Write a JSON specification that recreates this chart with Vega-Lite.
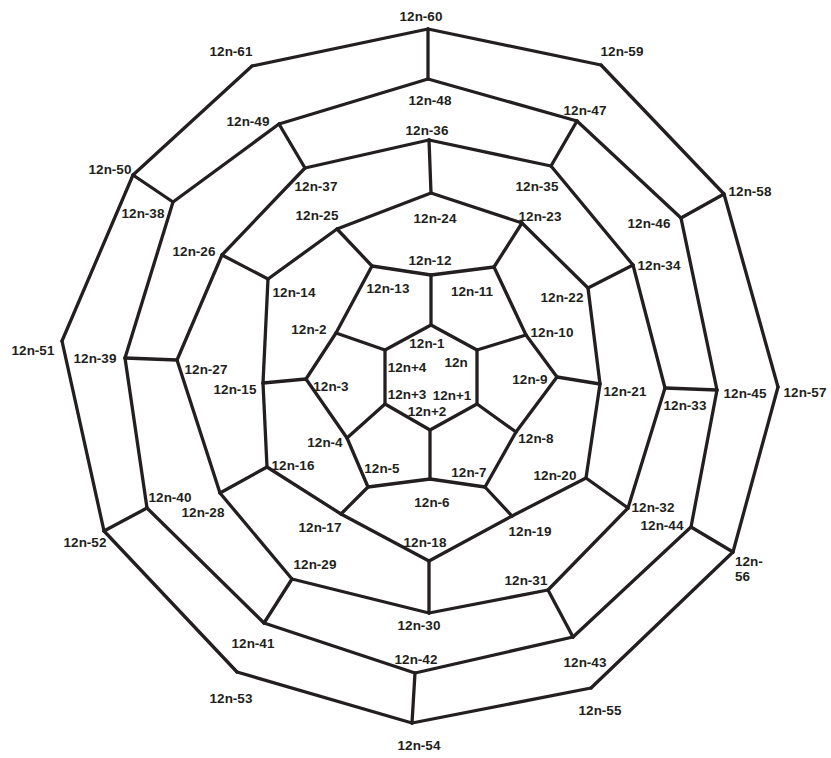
{
"$schema": "https://vega.github.io/schema/vega-lite/v6.json",
"width": 831, "height": 758,
"autosize": {"type": "fit", "contains": "padding"},
"padding": 0,
"background": "white",
"config": {"view": {"stroke": null}},
"datasets": {
"nodes": [
{"id": -1, "label": "12n-1", "x": 431, "y": 325, "lx": 427, "ly": 344},
{"id": 0, "label": "12n", "x": 477, "y": 350, "lx": 456, "ly": 363},
{"id": 1, "label": "12n+1", "x": 477, "y": 404, "lx": 452, "ly": 396},
{"id": 2, "label": "12n+2", "x": 430, "y": 430, "lx": 427, "ly": 412},
{"id": 3, "label": "12n+3", "x": 385, "y": 404, "lx": 407, "ly": 395},
{"id": 4, "label": "12n+4", "x": 385, "y": 350, "lx": 407, "ly": 368},
{"id": -2, "label": "12n-2", "x": 336, "y": 333, "lx": 309, "ly": 330},
{"id": -3, "label": "12n-3", "x": 306, "y": 379, "lx": 331, "ly": 387},
{"id": -4, "label": "12n-4", "x": 347, "y": 438, "lx": 325, "ly": 443},
{"id": -5, "label": "12n-5", "x": 368, "y": 487, "lx": 382, "ly": 469},
{"id": -6, "label": "12n-6", "x": 430, "y": 479, "lx": 432, "ly": 503},
{"id": -7, "label": "12n-7", "x": 485, "y": 487, "lx": 469, "ly": 473},
{"id": -8, "label": "12n-8", "x": 516, "y": 432, "lx": 536, "ly": 439},
{"id": -9, "label": "12n-9", "x": 557, "y": 377, "lx": 530, "ly": 380},
{"id": -10, "label": "12n-10", "x": 526, "y": 335, "lx": 552, "ly": 333},
{"id": -11, "label": "12n-11", "x": 494, "y": 267, "lx": 472, "ly": 292},
{"id": -12, "label": "12n-12", "x": 431, "y": 275, "lx": 430, "ly": 261},
{"id": -13, "label": "12n-13", "x": 372, "y": 266, "lx": 388, "ly": 289},
{"id": -14, "label": "12n-14", "x": 268, "y": 279, "lx": 294, "ly": 293},
{"id": -15, "label": "12n-15", "x": 263, "y": 383, "lx": 235, "ly": 390},
{"id": -16, "label": "12n-16", "x": 267, "y": 467, "lx": 293, "ly": 466},
{"id": -17, "label": "12n-17", "x": 341, "y": 514, "lx": 320, "ly": 528},
{"id": -18, "label": "12n-18", "x": 429, "y": 561, "lx": 425, "ly": 543},
{"id": -19, "label": "12n-19", "x": 512, "y": 516, "lx": 530, "ly": 532},
{"id": -20, "label": "12n-20", "x": 586, "y": 478, "lx": 555, "ly": 476},
{"id": -21, "label": "12n-21", "x": 600, "y": 384, "lx": 625, "ly": 392},
{"id": -22, "label": "12n-22", "x": 588, "y": 288, "lx": 562, "ly": 298},
{"id": -23, "label": "12n-23", "x": 522, "y": 223, "lx": 540, "ly": 217},
{"id": -24, "label": "12n-24", "x": 431, "y": 193, "lx": 435, "ly": 219},
{"id": -25, "label": "12n-25", "x": 337, "y": 229, "lx": 317, "ly": 216},
{"id": -26, "label": "12n-26", "x": 222, "y": 255, "lx": 194, "ly": 252},
{"id": -27, "label": "12n-27", "x": 177, "y": 360, "lx": 206, "ly": 370},
{"id": -28, "label": "12n-28", "x": 220, "y": 493, "lx": 203, "ly": 513},
{"id": -29, "label": "12n-29", "x": 292, "y": 579, "lx": 315, "ly": 565},
{"id": -30, "label": "12n-30", "x": 429, "y": 613, "lx": 419, "ly": 626},
{"id": -31, "label": "12n-31", "x": 548, "y": 590, "lx": 526, "ly": 581},
{"id": -32, "label": "12n-32", "x": 628, "y": 508, "lx": 653, "ly": 508},
{"id": -33, "label": "12n-33", "x": 665, "y": 388, "lx": 685, "ly": 406},
{"id": -34, "label": "12n-34", "x": 633, "y": 265, "lx": 659, "ly": 266},
{"id": -35, "label": "12n-35", "x": 551, "y": 166, "lx": 537, "ly": 187},
{"id": -36, "label": "12n-36", "x": 429, "y": 140, "lx": 427, "ly": 131},
{"id": -37, "label": "12n-37", "x": 305, "y": 168, "lx": 316, "ly": 187},
{"id": -38, "label": "12n-38", "x": 173, "y": 202, "lx": 143, "ly": 214},
{"id": -39, "label": "12n-39", "x": 125, "y": 358, "lx": 95, "ly": 359},
{"id": -40, "label": "12n-40", "x": 147, "y": 508, "lx": 170, "ly": 498},
{"id": -41, "label": "12n-41", "x": 264, "y": 623, "lx": 253, "ly": 644},
{"id": -42, "label": "12n-42", "x": 415, "y": 673, "lx": 416, "ly": 660},
{"id": -43, "label": "12n-43", "x": 573, "y": 637, "lx": 585, "ly": 663},
{"id": -44, "label": "12n-44", "x": 691, "y": 527, "lx": 662, "ly": 526},
{"id": -45, "label": "12n-45", "x": 717, "y": 390, "lx": 745, "ly": 394},
{"id": -46, "label": "12n-46", "x": 681, "y": 218, "lx": 649, "ly": 224},
{"id": -47, "label": "12n-47", "x": 577, "y": 121, "lx": 585, "ly": 111},
{"id": -48, "label": "12n-48", "x": 428, "y": 79, "lx": 430, "ly": 101},
{"id": -49, "label": "12n-49", "x": 279, "y": 124, "lx": 248, "ly": 122},
{"id": -50, "label": "12n-50", "x": 133, "y": 175, "lx": 110, "ly": 170},
{"id": -51, "label": "12n-51", "x": 62, "y": 341, "lx": 33, "ly": 351},
{"id": -52, "label": "12n-52", "x": 104, "y": 531, "lx": 85, "ly": 543},
{"id": -53, "label": "12n-53", "x": 237, "y": 672, "lx": 231, "ly": 699},
{"id": -54, "label": "12n-54", "x": 412, "y": 723, "lx": 419, "ly": 746},
{"id": -55, "label": "12n-55", "x": 591, "y": 688, "lx": 600, "ly": 711},
{"id": -56, "label": "12n-\n56", "x": 733, "y": 552, "lx": 735, "ly": 562},
{"id": -57, "label": "12n-57", "x": 778, "y": 387, "lx": 805, "ly": 393},
{"id": -58, "label": "12n-58", "x": 724, "y": 194, "lx": 750, "ly": 192},
{"id": -59, "label": "12n-59", "x": 601, "y": 65, "lx": 622, "ly": 52},
{"id": -60, "label": "12n-60", "x": 428, "y": 29, "lx": 421, "ly": 17},
{"id": -61, "label": "12n-61", "x": 252, "y": 66, "lx": 231, "ly": 52}
],
"edges": [
{"s": -1, "t": 0}, {"s": 0, "t": 1}, {"s": 1, "t": 2}, {"s": 2, "t": 3}, {"s": 3, "t": 4}, {"s": 4, "t": -1},
{"s": -1, "t": -12}, {"s": 0, "t": -10}, {"s": 1, "t": -8}, {"s": 2, "t": -6}, {"s": 3, "t": -4}, {"s": 4, "t": -2},
{"s": -2, "t": -3}, {"s": -3, "t": -4}, {"s": -4, "t": -5}, {"s": -5, "t": -6}, {"s": -6, "t": -7}, {"s": -7, "t": -8},
{"s": -8, "t": -9}, {"s": -9, "t": -10}, {"s": -10, "t": -11}, {"s": -11, "t": -12}, {"s": -12, "t": -13}, {"s": -13, "t": -2},
{"s": -3, "t": -15}, {"s": -5, "t": -17}, {"s": -7, "t": -19}, {"s": -9, "t": -21}, {"s": -11, "t": -23}, {"s": -13, "t": -25},
{"s": -14, "t": -15}, {"s": -15, "t": -16}, {"s": -16, "t": -17}, {"s": -17, "t": -18}, {"s": -18, "t": -19}, {"s": -19, "t": -20},
{"s": -20, "t": -21}, {"s": -21, "t": -22}, {"s": -22, "t": -23}, {"s": -23, "t": -24}, {"s": -24, "t": -25}, {"s": -25, "t": -14},
{"s": -14, "t": -26}, {"s": -16, "t": -28}, {"s": -18, "t": -30}, {"s": -20, "t": -32}, {"s": -22, "t": -34}, {"s": -24, "t": -36},
{"s": -26, "t": -27}, {"s": -27, "t": -28}, {"s": -28, "t": -29}, {"s": -29, "t": -30}, {"s": -30, "t": -31}, {"s": -31, "t": -32},
{"s": -32, "t": -33}, {"s": -33, "t": -34}, {"s": -34, "t": -35}, {"s": -35, "t": -36}, {"s": -36, "t": -37}, {"s": -37, "t": -26},
{"s": -27, "t": -39}, {"s": -29, "t": -41}, {"s": -31, "t": -43}, {"s": -33, "t": -45}, {"s": -35, "t": -47}, {"s": -37, "t": -49},
{"s": -38, "t": -39}, {"s": -39, "t": -40}, {"s": -40, "t": -41}, {"s": -41, "t": -42}, {"s": -42, "t": -43}, {"s": -43, "t": -44},
{"s": -44, "t": -45}, {"s": -45, "t": -46}, {"s": -46, "t": -47}, {"s": -47, "t": -48}, {"s": -48, "t": -49}, {"s": -49, "t": -38},
{"s": -38, "t": -50}, {"s": -40, "t": -52}, {"s": -42, "t": -54}, {"s": -44, "t": -56}, {"s": -46, "t": -58}, {"s": -48, "t": -60},
{"s": -50, "t": -51}, {"s": -51, "t": -52}, {"s": -52, "t": -53}, {"s": -53, "t": -54}, {"s": -54, "t": -55}, {"s": -55, "t": -56},
{"s": -56, "t": -57}, {"s": -57, "t": -58}, {"s": -58, "t": -59}, {"s": -59, "t": -60}, {"s": -60, "t": -61}, {"s": -61, "t": -50}
]
},
"layer": [
{
"data": {"name": "edges"},
"transform": [
{"lookup": "s", "from": {"data": {"name": "nodes"}, "key": "id", "fields": ["x", "y"]}, "as": ["x1", "y1"]},
{"lookup": "t", "from": {"data": {"name": "nodes"}, "key": "id", "fields": ["x", "y"]}, "as": ["x2", "y2"]}
],
"mark": {"type": "rule", "strokeWidth": 3.3, "color": "#231f20", "strokeCap": "round"},
"encoding": {
"x": {"field": "x1", "type": "quantitative", "scale": {"domain": [0, 831], "nice": false, "zero": false}, "axis": null},
"y": {"field": "y1", "type": "quantitative", "scale": {"domain": [0, 758], "nice": false, "zero": false, "reverse": true}, "axis": null},
"x2": {"field": "x2"},
"y2": {"field": "y2"}
}
},
{
"data": {"name": "nodes"},
"transform": [{"filter": "datum.id != -56"}],
"mark": {"type": "text", "font": "Liberation Sans", "fontWeight": "bold", "fontSize": 13.5, "color": "#231f20", "align": "center", "baseline": "middle"},
"encoding": {
"x": {"field": "lx", "type": "quantitative", "scale": {"domain": [0, 831], "nice": false, "zero": false}, "axis": null},
"y": {"field": "ly", "type": "quantitative", "scale": {"domain": [0, 758], "nice": false, "zero": false, "reverse": true}, "axis": null},
"text": {"field": "label"}
}
},
{
"data": {"name": "nodes"},
"transform": [{"filter": "datum.id == -56"}],
"mark": {"type": "text", "font": "Liberation Sans", "fontWeight": "bold", "fontSize": 13.5, "color": "#231f20", "align": "left", "baseline": "middle", "lineBreak": "\n", "lineHeight": 15},
"encoding": {
"x": {"field": "lx", "type": "quantitative", "scale": {"domain": [0, 831], "nice": false, "zero": false}, "axis": null},
"y": {"field": "ly", "type": "quantitative", "scale": {"domain": [0, 758], "nice": false, "zero": false, "reverse": true}, "axis": null},
"text": {"field": "label"}
}
}
]
}
